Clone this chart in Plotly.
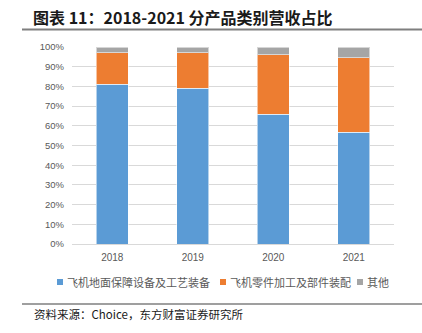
import plotly.graph_objects as go

# Revenue share by product category, 2018-2021 (%)
years = ["2018", "2019", "2020", "2021"]
ground_equipment = [81.1, 79.0, 65.8, 56.7]
parts_assembly = [16.0, 18.0, 30.3, 37.9]
others = [2.9, 3.0, 3.9, 5.4]

series_names = ["飞机地面保障设备及工艺装备", "飞机零件加工及部件装配", "其他"]
series_colors = ["#5B9BD5", "#ED7D31", "#A5A5A5"]

W, H = 422, 333
L, R, T, B = 72, 28, 47, 89
PW, PH = W - L - R, H - T - B


def px_x(x):
    return (x - L) / PW


def px_y(y):
    return (H - B - y) / PH


fig = go.Figure()
for name, vals, col in zip(series_names, [ground_equipment, parts_assembly, others], series_colors):
    fig.add_trace(go.Bar(
        x=years, y=vals, name=name,
        marker=dict(color=col, line=dict(color="rgba(255,255,255,0.55)", width=1)),
    ))

cjk = "Noto Sans CJK SC"

# Legend drawn as small swatches with labels underneath the axis
legend_y = 282
legend_x = [57, 220, 357]
shapes = []
annotations = []
for lx, name, col in zip(legend_x, series_names, series_colors):
    shapes.append(dict(type="rect", xref="paper", yref="paper",
                       x0=px_x(lx), x1=px_x(lx + 6),
                       y0=px_y(legend_y + 3), y1=px_y(legend_y - 3),
                       fillcolor=col, line=dict(width=0)))
    annotations.append(dict(text=name, xref="paper", yref="paper",
                            x=px_x(lx + 8), y=px_y(legend_y),
                            xanchor="left", yanchor="middle", showarrow=False,
                            font=dict(family=cjk, size=11, color="#595959")))

annotations += [
    dict(
        text="<b>图表 11：2018-2021 分产品类别营收占比</b>",
        xref="paper", yref="paper", x=px_x(31), y=px_y(17),
        xanchor="left", yanchor="middle", showarrow=False,
        font=dict(family=cjk, size=16, color="#1a1a1a"),
    ),
    dict(
        text="资料来源：Choice，东方财富证券研究所",
        xref="paper", yref="paper", x=px_x(32), y=px_y(314),
        xanchor="left", yanchor="middle", showarrow=False,
        font=dict(family=cjk, size=11.5, color="#1a1a1a"),
    ),
]
shapes += [
    dict(type="line", xref="paper", yref="paper",
         x0=px_x(22), x1=px_x(422), y0=px_y(29.5), y1=px_y(29.5),
         line=dict(color="#7F7F7F", width=2)),
    dict(type="line", xref="paper", yref="paper",
         x0=px_x(22), x1=px_x(422), y0=px_y(304), y1=px_y(304),
         line=dict(color="#7F7F7F", width=1.5)),
]

fig.update_layout(
    width=W, height=H,
    margin=dict(l=L, r=R, t=T, b=B),
    barmode="stack", bargap=0.6,
    paper_bgcolor="white", plot_bgcolor="white",
    showlegend=False,
    xaxis=dict(
        showgrid=False, showline=False, ticks="", ticklabelstandoff=6,
        tickfont=dict(family="Liberation Sans", size=10, color="#595959"),
    ),
    yaxis=dict(
        range=[0, 100], dtick=10, ticksuffix="%",
        showgrid=True, gridcolor="#D9D9D9", gridwidth=1,
        zeroline=True, zerolinecolor="#D9D9D9", zerolinewidth=1,
        showline=False, ticks="", ticklabelstandoff=7,
        tickfont=dict(family="Liberation Sans", size=9.5, color="#595959"),
    ),
    annotations=annotations,
    shapes=shapes,
)

fig.write_html("out.html")
